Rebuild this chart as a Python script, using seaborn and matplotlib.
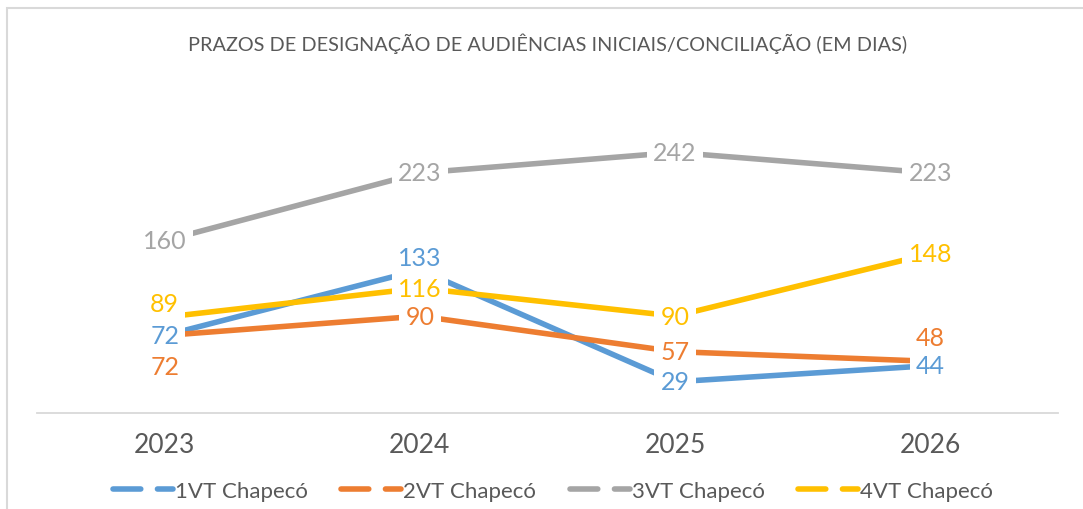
import pandas as pd
import seaborn as sns
import matplotlib.pyplot as plt
from matplotlib.lines import Line2D
from matplotlib.patches import Rectangle

# data
anos = ['2023', '2024', '2025', '2026']
vt1 = [72, 133, 29, 44]
vt2 = [72, 90, 57, 48]
vt3 = [160, 223, 242, 223]
vt4 = [89, 116, 90, 148]
series = ['1VT Chapecó', '2VT Chapecó', '3VT Chapecó', '4VT Chapecó']
cores = ['#5B9BD5', '#ED7D31', '#A5A5A5', '#FFC000']

df = pd.DataFrame({'ano': anos * 4,
                   'pos': list(range(4)) * 4,
                   'dias': vt1 + vt2 + vt3 + vt4,
                   'vara': [s for s in series for _ in anos]})

# label vertical offsets (pixels) where Excel moved them off the point
offsets = {('2VT Chapecó', 0): -31, ('1VT Chapecó', 1): 12,
           ('4VT Chapecó', 0): 14, ('2VT Chapecó', 3): 24}

sns.set_style('white')
plt.rcParams['font.family'] = ['Lato', 'DejaVu Sans']

fig = plt.figure(figsize=(10.83, 5.10), dpi=100)
ax = fig.add_axes([37/1083, (510-414)/510, (1058-37)/1083, 323/510])

sns.lineplot(data=df, x='pos', y='dias', hue='vara', palette=cores,
             linewidth=4, ax=ax, legend=False, sort=False)
for line in ax.lines:
    line.set_solid_capstyle('butt')

for s, c in zip(series, cores):
    sub = df[df.vara == s]
    for p, v in zip(sub.pos, sub.dias):
        dy = offsets.get((s, p), 0)
        ax.annotate(str(v), (p, v), xytext=(0, dy * 0.72), textcoords='offset points',
                    ha='center', va='center', fontsize=18, color=c, zorder=5,
                    bbox=dict(boxstyle='square,pad=0.25', fc='white', ec='none'))

ax.set_xlim(-0.5, 3.5)
ax.set_ylim(0, 300)
ax.set_xticks(range(4))
ax.set_xticklabels(anos, fontsize=19, color='#595959')
ax.tick_params(axis='x', length=0, pad=14)
ax.set_yticks([])
ax.set_xlabel('')
ax.set_ylabel('')
for sp in ['top', 'right', 'left']:
    ax.spines[sp].set_visible(False)
ax.spines['bottom'].set_color('#D9D9D9')
ax.spines['bottom'].set_linewidth(1.3)

fig.text(548/1083, 1 - 44/510, 'PRAZOS DE DESIGNAÇÃO DE AUDIÊNCIAS INICIAIS/CONCILIAÇÃO (EM DIAS)',
         ha='center', va='center', fontsize=14.3, color='#595959')

handles = [Line2D([], [], color=c, lw=4, linestyle=(0, (5, 3)), solid_capstyle='round',
                  dash_capstyle='round') for c in cores]
fig.legend(handles, series, loc='center', bbox_to_anchor=(553/1083, 1 - 492/510), ncol=4,
           frameon=False, fontsize=16, labelcolor='#595959', handlelength=2.7,
           handletextpad=0.1, columnspacing=1.5)

# chart border (only top and left visible in the crop)
fig.add_artist(Rectangle((7/1083, -0.1), 1.2, 1 - 9/510 + 0.1, transform=fig.transFigure,
                         fill=False, ec='#D9D9D9', lw=1.5))

fig.savefig('out.png', dpi=100, facecolor='white')
